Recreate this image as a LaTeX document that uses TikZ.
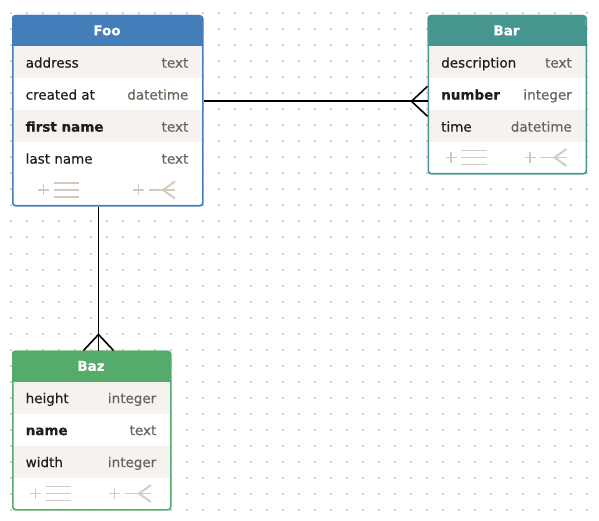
\documentclass[tikz,border=0pt]{standalone}
\usepackage{fontspec}
\setmainfont{DejaVu Sans}[FakeBold=0.35,BoldFont={DejaVu Sans Bold},BoldFeatures={FakeBold=0.35}]
\definecolor{foocol}{RGB}{68,126,186}
\definecolor{barcol}{RGB}{69,150,142}
\definecolor{bazcol}{RGB}{85,172,106}
\definecolor{stripecol}{RGB}{245,242,239}
\definecolor{typecol}{RGB}{108,99,90}
\definecolor{iconcol}{RGB}{210,202,192}
\definecolor{dotcol}{RGB}{208,208,208}
\definecolor{namecol}{RGB}{30,30,30}
\tikzset{
  fieldname/.style={anchor=base west, inner sep=0pt, text=namecol, font=\fontsize{13.5}{16}\selectfont},
  fieldtype/.style={anchor=base east, inner sep=0pt, text=typecol, font=\fontsize{13.5}{16}\selectfont},
  titletext/.style={anchor=base, inner sep=0pt, text=white, font=\fontsize{13.5}{16}\selectfont\bfseries},
  tableframe/.style={draw=#1, line width=1.6pt, rounded corners=3pt, inner sep=0pt, anchor=north west},
  iconline/.style={draw=iconcol, line width=1.9pt},
  relline/.style={draw=black, line width=1.6pt},
}
% #1 id, #2 x, #3 y, #4 w, #5 h, #6 colour, #7 title
\newcommand\ertable[7]{%
  \fill[white, rounded corners=3pt] (#2,#3) rectangle ++(#4,#5);
  \fill[#6, rounded corners=3pt] (#2,#3) rectangle ++(#4,31);
  \fill[#6] (#2,#3+10) rectangle ++(#4,21);
  \node[titletext] (#1title) at (#2+#4/2,#3+20.3) {#7};
}
% #1 id, #2 x, #3 y top, #4 w, #5 striped, #6 name, #7 type
\newcommand\errow[7]{%
  \ifnum#5=1 \fill[stripecol] (#2,#3) rectangle ++(#4,32);\fi
  \node[fieldname] (#1n) at (#2+13.5,#3+21.6) {#6};
  \node[fieldtype] (#1t) at (#2+#4-13.5,#3+21.6) {#7};
}
% #1 x, #2 y centre, #3 w
\newcommand\ericons[3]{%
  \pgfmathsetmacro\ca{#1+#3/4}%
  \pgfmathsetmacro\cb{#1+3*#3/4}%
  \draw[iconline] (\ca-21.5,#2) -- (\ca-10.5,#2) (\ca-16,#2-5.5) -- (\ca-16,#2+5.5);
  \draw[iconline] (\ca-6,#2-7) -- (\ca+19.5,#2-7) (\ca-6,#2) -- (\ca+19.5,#2) (\ca-6,#2+7) -- (\ca+19.5,#2+7);
  \draw[iconline] (\cb-21.5,#2) -- (\cb-10.5,#2) (\cb-16,#2-5.5) -- (\cb-16,#2+5.5);
  \draw[iconline] (\cb-6,#2) -- (\cb+20.5,#2);
  \draw[iconline] (\cb+20.5,#2-8.5) -- (\cb+8.5,#2) -- (\cb+20.5,#2+8.5);
}
\begin{document}
\begin{tikzpicture}[x=1pt,y=-1pt]
\useasboundingbox (0,0) rectangle (599,521);
\fill[white] (0,0) rectangle (599,521);
% dot grid
\foreach \i in {0,...,36}{
  \foreach \j in {0,...,31}{
    \fill[dotcol] (11+16*\i-1,13.5+16*\j-1) rectangle ++(2,2);
  }
}
% ---- Foo ----
\ertable{foo}{12}{15}{190}{190}{foocol}{Foo}
\errow{fooa}{12}{46}{190}{1}{address}{text}
\errow{foob}{12}{78}{190}{0}{created at}{datetime}
\errow{fooc}{12}{110}{190}{1}{\textbf{first name}}{text}
\errow{food}{12}{142}{190}{0}{last name}{text}
\ericons{12}{190}{190}
\node[tableframe=foocol, minimum width=190pt, minimum height=190pt] (foo) at (12,15) {};
% ---- Bar ----
\ertable{bar}{427.5}{15}{158}{158}{barcol}{Bar}
\errow{bara}{427.5}{46}{158}{1}{description}{text}
\errow{barb}{427.5}{78}{158}{0}{\textbf{number}}{integer}
\errow{barc}{427.5}{110}{158}{1}{time}{datetime}
\ericons{427.5}{157.5}{158}
\node[tableframe=barcol, minimum width=158pt, minimum height=158pt] (bar) at (427.5,15) {};
% ---- Baz ----
\ertable{baz}{12}{350.5}{158}{158.5}{bazcol}{Baz}
\errow{baza}{12}{381.5}{158}{1}{height}{integer}
\errow{bazb}{12}{413.5}{158}{0}{\textbf{name}}{text}
\errow{bazc}{12}{445.5}{158}{1}{width}{integer}
\ericons{12}{493.5}{158}
\node[tableframe=bazcol, minimum width=158pt, minimum height=158.5pt] (baz) at (12,350.5) {};
% ---- relations ----
\coordinate (fbrow) at (0,101.3);
\coordinate (fzcol) at (98.5,0);
\draw[relline] (foo.east |- fbrow) -- (bar.west |- fbrow);
\draw[relline] (bar.west |- fbrow) ++(0,-15) -- ++(-16,15) -- ++(16,15);
\draw[relline] (foo.south -| fzcol) -- (baz.north -| fzcol);
\draw[relline] (baz.north -| fzcol) ++(-15,0) -- ++(15,-16) -- ++(15,16);
\end{tikzpicture}
\end{document}
